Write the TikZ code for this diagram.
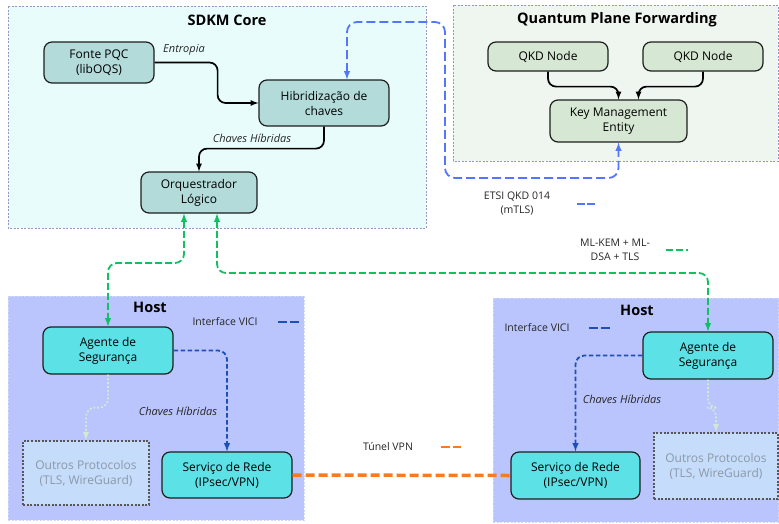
\documentclass[tikz,border=0pt]{standalone}
\usepackage{fontspec}
\setmainfont{Open Sans}
\usepackage{tikz}
\definecolor{corearea}{HTML}{E9FCFC}
\definecolor{qpfarea}{HTML}{EFF5EF}
\definecolor{hostarea}{HTML}{BAC5FD}
\definecolor{arealine}{HTML}{9696C4}
\definecolor{hostline}{HTML}{D2D8F8}
\definecolor{corenode}{HTML}{B2DBDA}
\definecolor{qkdnode}{HTML}{D6E8D4}
\definecolor{hostnode}{HTML}{5CE1E6}
\definecolor{othernode}{HTML}{C5DDFB}
\definecolor{othertext}{HTML}{8C98A8}
\definecolor{boxline}{HTML}{1E1E1E}
\definecolor{etsiblue}{HTML}{5575FF}
\definecolor{vicblue}{HTML}{1C4FB8}
\definecolor{pqcgreen}{HTML}{12C062}
\definecolor{vpnorange}{HTML}{F77B20}
\definecolor{paleline}{HTML}{D5E8D4}
\tikzset{
  >=latex,
}
\tikzstyle{every node}=[font=\fontsize{12}{15}\selectfont]
\tikzstyle{area}=[draw=arealine,dash pattern=on 2pt off 1.5pt,line width=.8pt]
\tikzstyle{title}=[font=\fontsize{14.5}{17}\selectfont\bfseries]
\tikzstyle{box}=[draw=boxline,line width=1.2pt,rounded corners=8pt,align=center,inner sep=2pt]
\tikzstyle{corebox}=[box,fill=corenode]
\tikzstyle{qkdbox}=[box,fill=qkdnode]
\tikzstyle{hostbox}=[box,fill=hostnode]
\tikzstyle{otherbox}=[draw=boxline!75,fill=othernode,line width=2pt,dash pattern=on 2pt off 1.6pt,align=center,text=othertext]
\tikzstyle{lbl}=[font=\fontsize{11}{14}\selectfont\itshape,text=black!85]
\tikzstyle{legend}=[font=\fontsize{10.5}{14}\selectfont,align=center,text=black!85]
\tikzstyle{flow}=[->,line width=1.7pt,rounded corners=8pt]
\tikzstyle{etsi}=[etsiblue,line width=1.8pt,dash pattern=on 9pt off 4pt,rounded corners=10pt]
\tikzstyle{pqc}=[pqcgreen,line width=1.8pt,dash pattern=on 7pt off 3pt,rounded corners=9pt]
\tikzstyle{vici}=[vicblue,line width=1.8pt,dash pattern=on 4.5pt off 2.5pt,rounded corners=9pt]
\tikzstyle{local}=[paleline,line width=1.8pt,dotted,rounded corners=9pt]
\tikzstyle{vpn}=[vpnorange,line width=3.5pt,dash pattern=on 9pt off 4pt]

\begin{document}
\begin{tikzpicture}[x=1pt,y=-1pt]
  \useasboundingbox (0,0) rectangle (779,523);

  % areas
  \filldraw[area,fill=corearea] (8,6) rectangle (426,228);
  \filldraw[area,fill=qpfarea] (453,5) rectangle (778,161);
  \filldraw[area,draw=hostline,fill=hostarea] (8,296) rectangle (304,520);
  \filldraw[area,draw=hostline,fill=hostarea] (493,298) rectangle (778.5,522);
  \node[title] (coretitle) at (227,20) {SDKM Core};
  \node[title] (qpftitle) at (617,20) {Quantum Plane Forwarding};
  \node[title] (hostAtitle) at (150,307) {Host};
  \node[title] (hostBtitle) at (637,310) {Host};

  % SDKM core
  \node[corebox,minimum width=110pt,minimum height=41pt] (fonte) at (99,62.5) {Fonte PQC\\(libOQS)};
  \node[corebox,minimum width=130pt,minimum height=46pt] (hibrid) at (324,103) {Hibridização de\\chaves};
  \node[corebox,minimum width=116pt,minimum height=41pt] (orq) at (199,192.5) {Orquestrador\\Lógico};

  % quantum plane
  \node[qkdbox,minimum width=120pt,minimum height=29pt] (qkdA) at (548,56.5) {QKD Node};
  \node[qkdbox,minimum width=120pt,minimum height=29pt] (qkdB) at (703,56.5) {QKD Node};
  \node[qkdbox,minimum width=137pt,minimum height=42pt] (kme) at (618.5,121) {Key Management\\Entity};

  % hosts
  \node[hostbox,minimum width=130pt,minimum height=47pt] (agA) at (108,350.5) {Agente de\\Segurança};
  \node[otherbox,minimum width=126pt,minimum height=64pt] (outA) at (86,473) {Outros Protocolos\\(TLS, WireGuard)};
  \node[hostbox,minimum width=130pt,minimum height=46pt] (srvA) at (227,475) {Serviço de Rede\\(IPsec/VPN)};
  \node[hostbox,minimum width=130pt,minimum height=47pt] (agB) at (708,355.5) {Agente de\\Segurança};
  \node[hostbox,minimum width=129pt,minimum height=47pt] (srvB) at (575.5,475.5) {Serviço de Rede\\(IPsec/VPN)};
  \node[otherbox,minimum width=124pt,minimum height=66pt] (outB) at (716,466) {Outros Protocolos\\(TLS, WireGuard)};

  % core flows
  \draw[flow] (fonte.east) -- ++(63,0) |- (hibrid.west);
  \node[lbl] (entropia) at (184,50) {Entropia};
  \draw[flow] (hibrid.south) -- ++(0,22) -| (orq.north);
  \node[lbl] (chavesC) at (252,138) {Chaves Híbridas};
  \draw[flow] (qkdA.south) -- ++(0,15) -| (kme.north);
  \draw[flow] (qkdB.south) -- ++(0,15) -| ([xshift=20]kme.north);

  % ETSI QKD 014
  \draw[etsi,<->] ([xshift=23]hibrid.north) |- (445,22) -- (445,178) -| (kme.south);
  \node[legend] (lbletsi) at (517,204) {ETSI QKD 014\\(mTLS)};
  \draw[etsi,dash pattern=on 8pt off 2pt] ([xshift=23]lbletsi.east) -- ++(18,0);

  % PQC channels
  \draw[pqc,<->] ([xshift=-15]orq.south) -- (184,263) -| (agA.north);
  \draw[pqc,<->] ([xshift=18]orq.south) -- (217,273) -| (agB.north);
  \node[legend] (lblpqc) at (615,250) {ML-KEM + ML-\\DSA + TLS};
  \draw[pqc] ([xshift=13]lblpqc.east) -- ++(22,0);

  % VICI
  \draw[vici,->] (agA.east) -| (srvA.north);
  \node[lbl] (chavesA) at (178,411) {Chaves Híbridas};
  \node[legend] (lblviciA) at (225,322) {Interface VICI};
  \draw[vici,dash pattern=on 9pt off 3pt] ([xshift=17]lblviciA.east) -- ++(22,0);
  \draw[vici,->] (agB.west) -| (srvB.north);
  \node[lbl] (chavesB) at (622,399) {Chaves Híbridas};
  \node[legend] (lblviciB) at (537,328) {Interface VICI};
  \draw[vici,dash pattern=on 9pt off 3pt] ([xshift=16]lblviciB.east) -- ++(22,0);

  % other protocols
  \draw[local,->] (agA.south) -- ++(0,33) -| (outA.north);
  \draw[local,->] (agB.south) -- ++(0,28) -| (outB.north);

  % VPN tunnel
  \draw[vpn] (srvA.east) -- (srvB.west);
  \node[legend] (lblvpn) at (388,447) {Túnel VPN};
  \draw[vpnorange,line width=2.5pt,dash pattern=on 9pt off 3pt] ([xshift=24]lblvpn.east) -- ++(20,0);
\end{tikzpicture}
\end{document}
